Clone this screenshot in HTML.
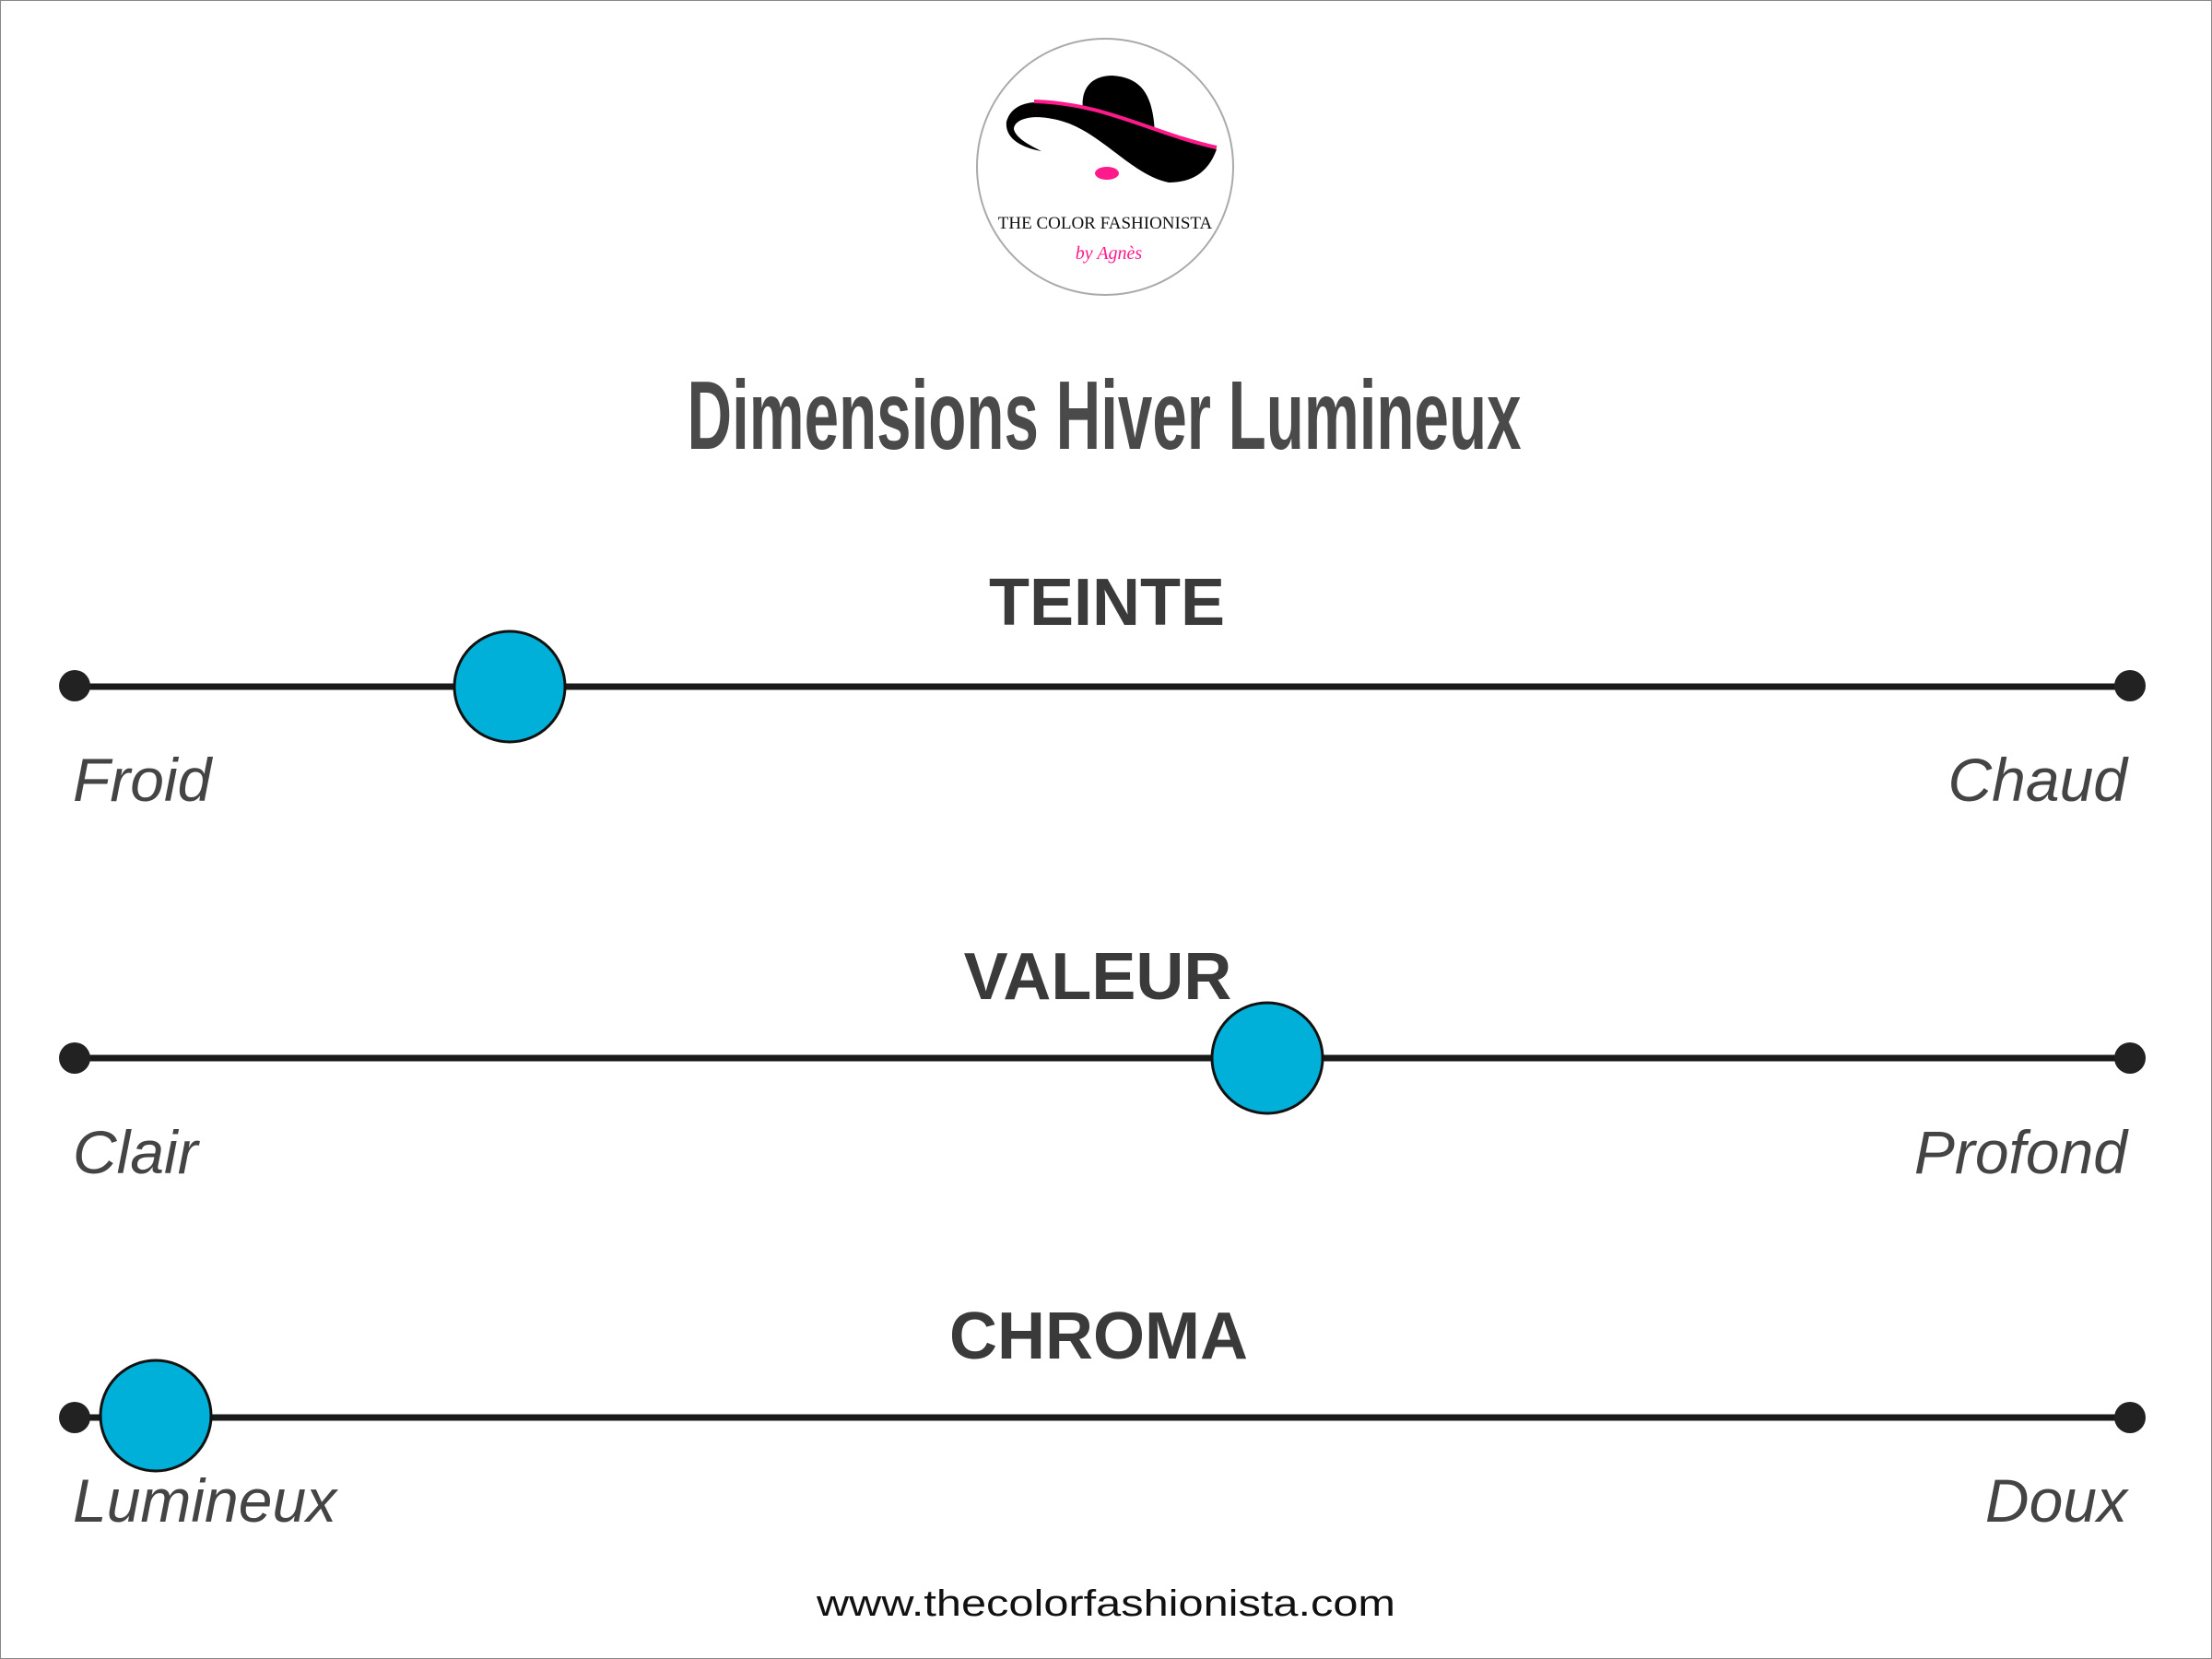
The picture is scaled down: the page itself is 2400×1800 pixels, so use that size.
<!DOCTYPE html>
<html><head><meta charset="utf-8"><style>
html,body{margin:0;padding:0;background:#fff}
body{width:2400px;height:1800px;position:relative;overflow:hidden;font-family:"Liberation Sans",sans-serif}
.frame{position:absolute;left:0;top:0;width:2398px;height:1798px;border:1px solid #888}
</style></head><body>
<div class="frame"></div>
<svg width="2400" height="1800" style="position:absolute;left:0;top:0">
  <!-- logo -->
  <circle cx="1199" cy="181" r="139" fill="#fff" stroke="#aaa" stroke-width="2"/>
  <path d="M1175 120 C1172 95 1185 82 1207 82 C1240 84 1252 105 1253 148 L1175 125 Z" fill="#000"/>
  <path d="M1122 111 C1200 112 1250 145 1320 162 C1310 190 1290 198 1268 198 C1230 190 1200 150 1160 134 C1120 120 1100 130 1100 140 C1102 150 1118 158 1130 164 C1108 160 1090 150 1092 132 C1096 118 1108 112 1122 111 Z" fill="#000"/>
  <path d="M1122 110 C1200 112 1250 145 1320 160" stroke="#ff1a8c" stroke-width="4" fill="none"/>
  <ellipse cx="1201" cy="188" rx="13" ry="7" fill="#ff1a8c"/>
  <text x="1199" y="248" text-anchor="middle" font-family="Liberation Serif,serif" font-size="19" fill="#111">THE COLOR FASHIONISTA</text>
  <text x="1203" y="281" text-anchor="middle" font-family="Liberation Serif,serif" font-style="italic" font-size="20" fill="#ff1a8c">by Agnès</text>

  <text x="1198" y="487" text-anchor="middle" font-family="Liberation Sans Narrow,Liberation Sans,sans-serif" font-weight="bold" font-size="106" fill="#4a4a4a" textLength="905" lengthAdjust="spacingAndGlyphs">Dimensions Hiver Lumineux</text>

  <g font-weight="bold" font-size="72" fill="#3a3a3a" text-anchor="middle">
    <text x="1201" y="678">TEINTE</text>
    <text x="1191" y="1084">VALEUR</text>
    <text x="1192" y="1474">CHROMA</text>
  </g>

  <g stroke="#1a1a1a" stroke-width="7">
    <line x1="81" y1="745" x2="2311" y2="745"/>
    <line x1="81" y1="1148" x2="2311" y2="1148"/>
    <line x1="81" y1="1538" x2="2311" y2="1538"/>
  </g>
  <g fill="#222">
    <circle cx="81" cy="744" r="17"/><circle cx="2311" cy="744" r="17"/>
    <circle cx="81" cy="1148" r="17"/><circle cx="2311" cy="1148" r="17"/>
    <circle cx="81" cy="1538" r="17"/><circle cx="2311" cy="1538" r="17"/>
  </g>
  <g fill="#00b0d8" stroke="#111" stroke-width="3">
    <circle cx="553" cy="745" r="60"/>
    <circle cx="1375" cy="1148" r="60"/>
    <circle cx="169" cy="1536" r="60"/>
  </g>

  <g font-style="italic" font-size="66" fill="#444">
    <text x="79" y="869">Froid</text>
    <text x="2308" y="869" text-anchor="end">Chaud</text>
    <text x="79" y="1273">Clair</text>
    <text x="2308" y="1273" text-anchor="end">Profond</text>
    <text x="79" y="1651">Lumineux</text>
    <text x="2308" y="1651" text-anchor="end">Doux</text>
  </g>
  <text x="1200" y="1753" text-anchor="middle" font-size="40" fill="#111" textLength="628" lengthAdjust="spacingAndGlyphs">www.thecolorfashionista.com</text>
</svg>
</body></html>
